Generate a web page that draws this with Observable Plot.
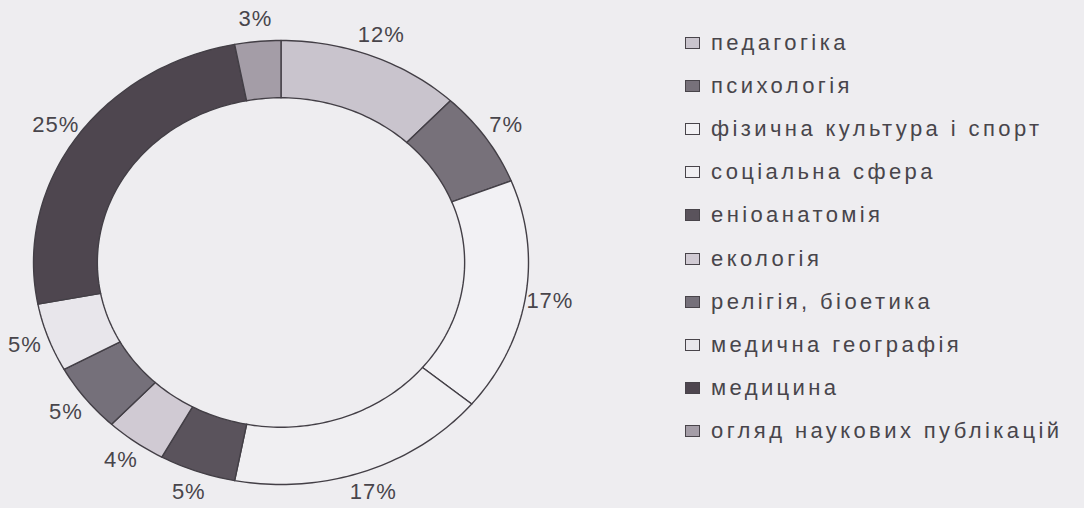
<!DOCTYPE html>
<html>
<head>
<meta charset="utf-8">
<script src="https://cdn.jsdelivr.net/npm/d3@7"></script>
<script src="https://cdn.jsdelivr.net/npm/@observablehq/plot@0.6"></script>
<style>
  html, body { margin: 0; padding: 0; background: #eeedf0; }
  #wrap { position: relative; width: 1084px; height: 508px; overflow: hidden; background: #eeedf0; }
  #chart { position: absolute; left: 0; top: 0; }
  #chart svg text { letter-spacing: 1px; }
  #legend { position: absolute; left: 685px; top: 21px; font-family: "Liberation Sans", Arial, sans-serif; font-size: 22px; color: #48454b; }
  .row { height: 43.2px; display: flex; align-items: center; white-space: nowrap; letter-spacing: 3.4px; }
  .sw { width: 13px; height: 10px; border: 1.5px solid #48444a; margin-right: 11px; flex: none; }
</style>
</head>
<body>
<div id="wrap">
  <div id="chart"></div>
  <div id="legend"></div>
</div>
<script>
const categories = ["педагогіка", "психологія", "фізична культура і спорт", "соціальна сфера", "еніоанатомія", "екологія", "релігія, біоетика", "медична географія", "медицина", "огляд наукових публікацій"];
const values = [12, 7, 17, 17, 5, 4, 5, 5, 25, 3];
const labels = ["12%", "7%", "17%", "17%", "5%", "4%", "5%", "5%", "25%", "3%"];
const colors = ["#c9c4cd", "#77717a", "#f2f1f4", "#f0eff2", "#5a535c", "#d0cad3", "#75707a", "#e8e6eb", "#4e464f", "#a49da7"];

const innerRatio = 0.742;
const total = d3.sum(values);

// donut slice outlines in data space (unit circle; the x/y scales stretch it into the ellipse)
const ring = [];
const labelData = [];
let cum = 0;
categories.forEach((cat, i) => {
  const v = values[i];
  const a0 = cum / total * 2 * Math.PI;
  const a1 = (cum + v) / total * 2 * Math.PI;
  const n = Math.max(4, Math.ceil(v * 3));
  const pts = [];
  for (let k = 0; k <= n; k++) {
    const a = a0 + (a1 - a0) * k / n;
    pts.push({cat, x: Math.sin(a), y: Math.cos(a)});
  }
  for (let k = n; k >= 0; k--) {
    const a = a0 + (a1 - a0) * k / n;
    pts.push({cat, x: innerRatio * Math.sin(a), y: innerRatio * Math.cos(a)});
  }
  ring.push(...pts);
  const am = (a0 + a1) / 2;
  labelData.push({label: labels[i], x: 1.1 * Math.sin(am), y: 1.1 * Math.cos(am)});
  cum += v;
});

const plot = Plot.plot({
  width: 600,
  height: 508,
  marginLeft: 33,
  marginRight: 72,
  marginTop: 40,
  marginBottom: 24,
  style: {background: "transparent", overflow: "visible"},
  x: {domain: [-1, 1], axis: null},
  y: {domain: [-1, 1], axis: null},
  color: {domain: categories, range: colors},
  marks: [
    Plot.line(ring, {x: "x", y: "y", z: "cat", fill: "cat", stroke: "#433f46", strokeWidth: 1.4, curve: "linear-closed"}),
    Plot.text(labelData, {x: "x", y: "y", text: "label", fontSize: 22, fill: "#48454b", fontFamily: "Liberation Sans, Arial, sans-serif"})
  ]
});
document.getElementById("chart").appendChild(plot);

const legend = document.getElementById("legend");
categories.forEach((c, i) => {
  const row = document.createElement("div");
  row.className = "row";
  const sw = document.createElement("span");
  sw.className = "sw";
  sw.style.background = colors[i];
  const t = document.createElement("span");
  t.textContent = c;
  row.appendChild(sw);
  row.appendChild(t);
  legend.appendChild(row);
});
</script>
</body>
</html>
